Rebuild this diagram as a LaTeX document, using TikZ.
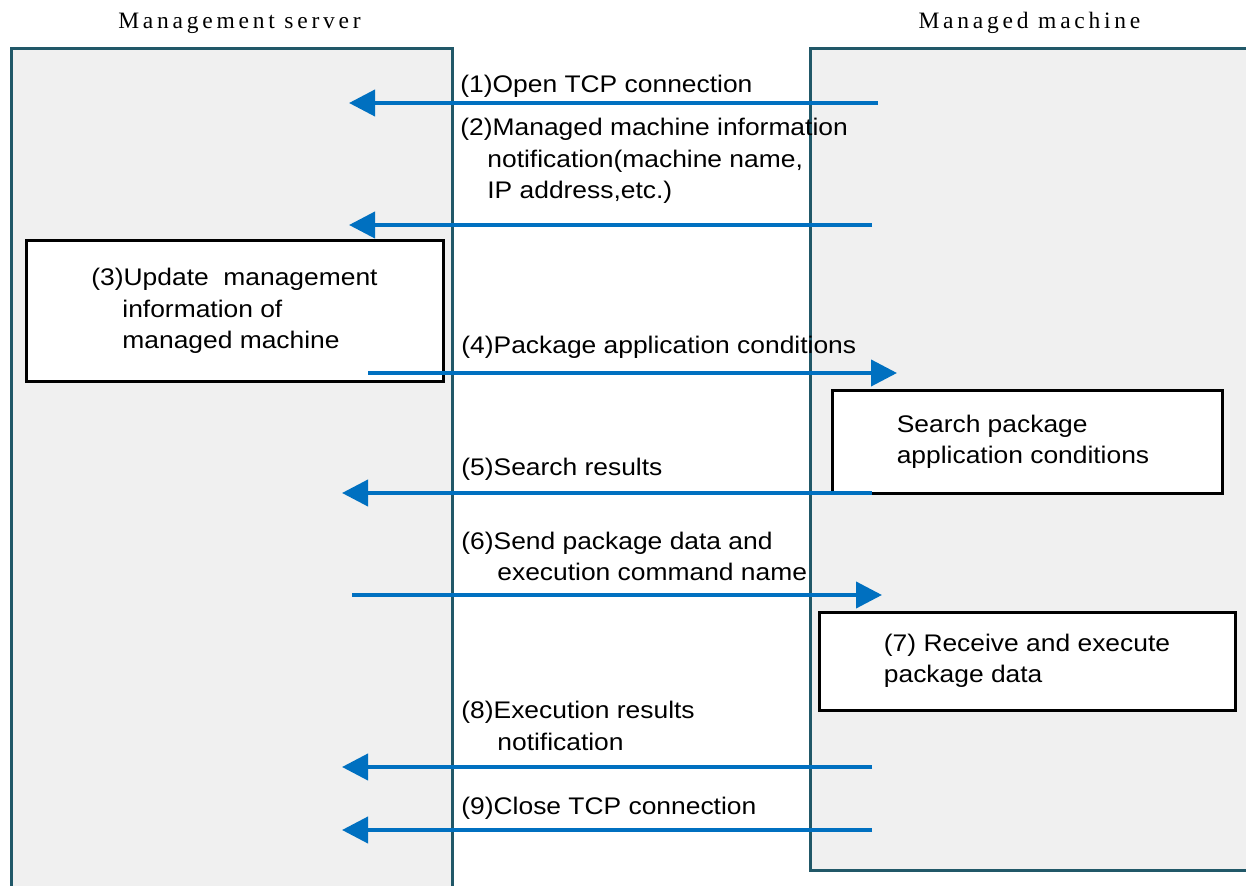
\documentclass[tikz,border=0pt]{standalone}
\usepackage{fontspec}
\setmainfont[FakeStretch=1.1]{Liberation Sans}
\newfontfamily\headfont[LetterSpace=16]{Liberation Serif}
\usetikzlibrary{arrows.meta}
\definecolor{LaneBorder}{HTML}{215868}
\definecolor{LaneFill}{HTML}{F0F0F0}
\definecolor{MsgBlue}{HTML}{0070C0}

\begin{document}
\begin{tikzpicture}[x=0.5pt, y=-0.5pt,
    every node/.style={font=\fontsize{12}{15.75}\selectfont},
    lane/.style={draw=LaneBorder, fill=LaneFill, line width=1.5pt},
    stepbox/.style={draw=black, fill=white, line width=1.5pt, align=left, inner sep=0pt},
    msg/.style={MsgBlue, line width=2pt, -{Triangle[length=13pt, width=13pt]}},
    lbl/.style={anchor=base west, inner sep=0pt, align=left},
    head/.style={font=\headfont\fontsize{11.75}{14}\selectfont}
  ]
  \useasboundingbox (0,0) rectangle (1246,886);

  % Lanes
  \draw[lane] (11,900) -- (11,49) -- (452,49) -- (452,900);
  \draw[lane] (810,49) rectangle (1248,870);

  % Headings
  \node[head] (srv) at (239.5,23) {Management server};
  \node[head] (mch) at (1029.5,23) {Managed machine};

  % Processing steps
  \node[stepbox, minimum width=208.5pt, minimum height=70.5pt] (upd) at (234.5,311)
    {(3)Update\ \ management\\\hspace*{15.5pt}information of\\\hspace*{15.5pt}managed machine};
  \node[stepbox, minimum width=195pt, minimum height=51.5pt] (srch) at (1027,442)
    {\hspace*{-4pt}Search package\\\hspace*{-4pt}application conditions};
  \node[stepbox, minimum width=208pt, minimum height=49pt] (exec) at (1027,661)
    {\raisebox{-2pt}{(7) Receive and execute}\\\raisebox{-2pt}{package data}};

  % Message labels (last line baseline)
  \node[lbl] (l1) at (460,93) {(1)Open TCP connection};
  \node[lbl] (l2) at (460,199) {(2)Managed machine information\\\hspace*{13.5pt}notification(machine name,\\\hspace*{13.5pt}IP address,etc.)};
  \node[lbl] (l4) at (461,354) {(4)Package application conditions};
  \node[lbl] (l5) at (461,476) {(5)Search results};
  \node[lbl] (l6) at (461,581) {(6)Send package data and\\\hspace*{18pt}execution command name};
  \node[lbl] (l8) at (461,750) {(8)Execution results\\\hspace*{18pt}notification};
  \node[lbl] (l9) at (461,814) {(9)Close TCP connection};

  % Message ends
  \coordinate (m1) at (878,103); \coordinate (s1) at (349,103);
  \coordinate (m2) at (872,225); \coordinate (s2) at (349,225);
  \coordinate (s4) at (368,373); \coordinate (m4) at (897,373);
  \coordinate (m5) at (872,493); \coordinate (s5) at (342,493);
  \coordinate (s6) at (352,595); \coordinate (m6) at (882,595);
  \coordinate (m8) at (872,767); \coordinate (s8) at (342,767);
  \coordinate (m9) at (872,830); \coordinate (s9) at (342,830);

  % Messages
  \draw[msg] (m1) -- (s1);
  \draw[msg] (m2) -- (s2);
  \draw[msg] (s4) -- (m4);
  \draw[msg] (m5) -- (s5);
  \draw[msg] (s6) -- (m6);
  \draw[msg] (m8) -- (s8);
  \draw[msg] (m9) -- (s9);
\end{tikzpicture}
\end{document}
